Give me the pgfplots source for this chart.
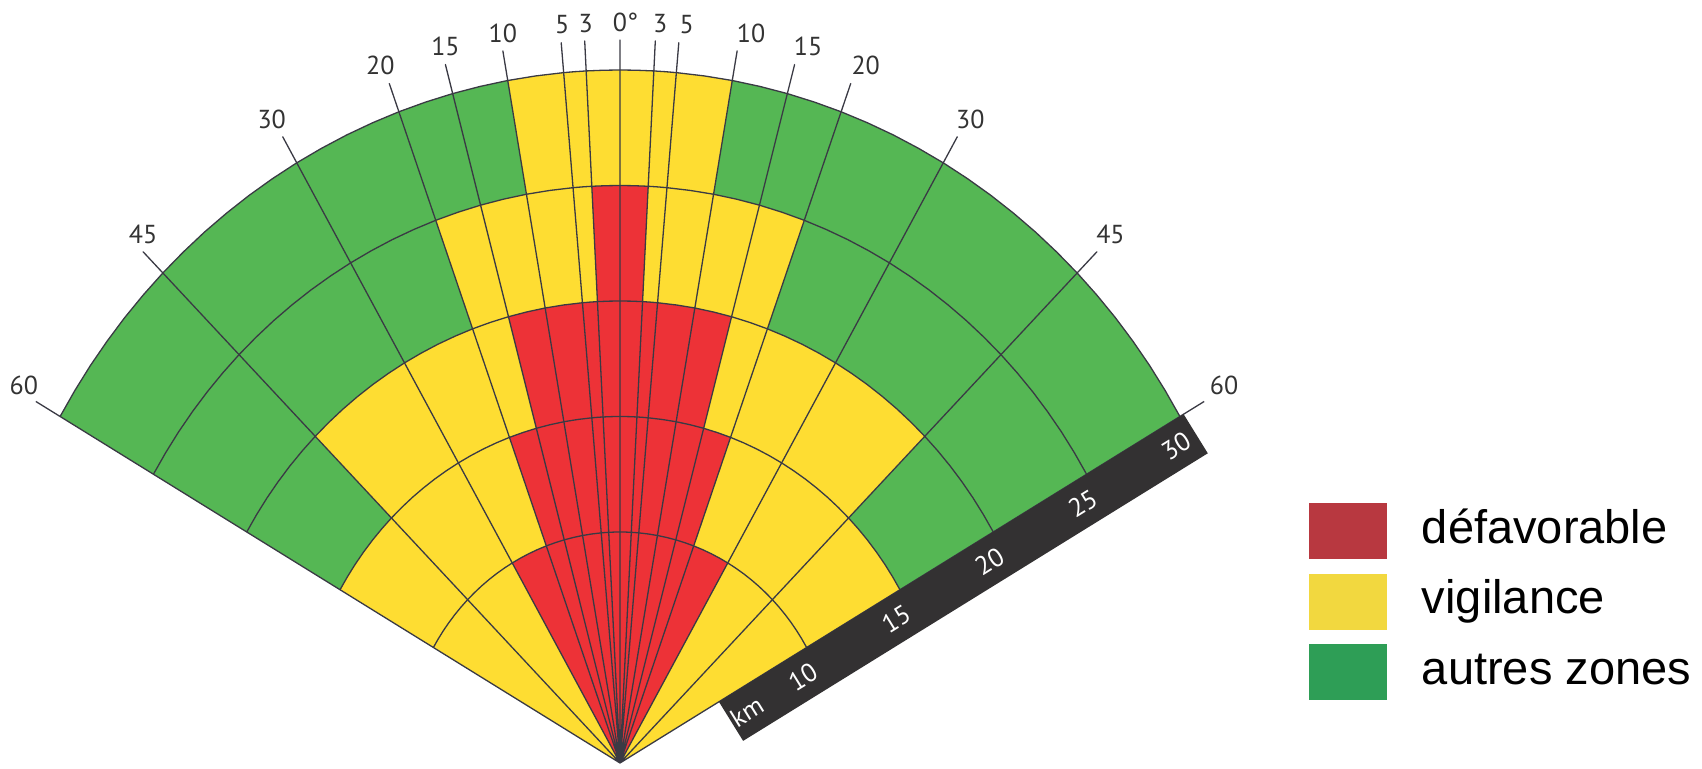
\documentclass[border=0pt]{standalone}
\usepackage{pgfplots}
\pgfplotsset{compat=1.18}
\usepackage{pgfplotstable}
\usepackage{fontspec}
\setmainfont{Liberation Sans}
\newfontfamily\tickfont{PT Sans}
\definecolor{fred}{HTML}{ED3237}
\definecolor{fyel}{HTML}{FEDD32}
\definecolor{fgrn}{HTML}{55B754}
\definecolor{lred}{HTML}{B83840}
\definecolor{lyel}{HTML}{F2D83F}
\definecolor{lgrn}{HTML}{2E9E56}
\definecolor{linec}{HTML}{3A3A44}
\definecolor{barc}{HTML}{333132}
\definecolor{labc}{HTML}{333333}
\tikzset{
  tlab/.style={font=\tickfont\fontsize{13}{15}\selectfont, text=labc, anchor=south, inner sep=0pt, yshift=4pt},
  blab/.style={font=\tickfont\fontsize{13}{15}\selectfont, text=white, rotate=31.75, anchor=center, inner sep=0pt},
}

% angle (deg from vertical) / radius factor; first row = apex
\pgfplotstableread{
a f
0 0
-60 1
-57.5 1
-55 1
-52.5 1
-50 1
-47.5 1
-45 1
-42.5 1
-40 1
-37.5 1
-35 1
-32.5 1
-30 1
-27.5 1
-25 1
-22.5 1
-20 1
-17.5 1
-15 1
-12.5 1
-10 1
-7.5 1
-5 1
-4 1
-3 1
-1.5 1
0 1
1.5 1
3 1
4 1
5 1
7.5 1
10 1
12.5 1
15 1
17.5 1
20 1
22.5 1
25 1
27.5 1
30 1
32.5 1
35 1
37.5 1
40 1
42.5 1
45 1
47.5 1
50 1
52.5 1
55 1
57.5 1
60 1
}\fan

\pgfplotstableread{
a f
-60 1
-57.5 1
-55 1
-52.5 1
-50 1
-47.5 1
-45 1
-42.5 1
-40 1
-37.5 1
-35 1
-32.5 1
-30 1
-27.5 1
-25 1
-22.5 1
-20 1
-17.5 1
-15 1
-12.5 1
-10 1
-7.5 1
-5 1
-4 1
-3 1
-1.5 1
0 1
1.5 1
3 1
4 1
5 1
7.5 1
10 1
12.5 1
15 1
17.5 1
20 1
22.5 1
25 1
27.5 1
30 1
32.5 1
35 1
37.5 1
40 1
42.5 1
45 1
47.5 1
50 1
52.5 1
55 1
57.5 1
60 1
}\arcpts

\pgfplotstableread{
a r
-60 31.3
-60 0
-45 31.3
-45 0
-30 31.3
-30 0
-20 31.3
-20 0
-15 31.3
-15 0
-10 31.3
-10 0
-5 31.3
-5 0
-3 31.3
-3 0
0 31.3
0 0
3 31.3
3 0
5 31.3
5 0
10 31.3
10 0
15 31.3
15 0
20 31.3
20 0
30 31.3
30 0
45 31.3
45 0
60 31.3
}\rays

% sector: colour, outer radius (km), half-angle (deg)
\newcommand{\fanwedge}[3]{\addplot[draw=none,fill=#1,forget plot] table[x expr={#2*\thisrow{f}*sin(max(-#3,min(#3,\thisrow{a})))}, y expr={#2*\thisrow{f}*cos(max(-#3,min(#3,\thisrow{a})))}] {\fan};}
\newcommand{\fanarc}[1]{\addplot[linec,line width=0.65pt,forget plot] table[x expr={#1*\thisrow{f}*sin(\thisrow{a})}, y expr={#1*\thisrow{f}*cos(\thisrow{a})}] {\arcpts};}

\begin{document}
\begin{tikzpicture}
\path[use as bounding box] (0,0) rectangle (851pt,384.5pt);
\begin{axis}[
  at={(310pt,3pt)}, anchor=origin,
  x=10.775pt, y=11.55pt,
  xmin=-34, xmax=34, ymin=-4, ymax=34,
  hide axis, clip=false,
  legend image code/.code={\fill[#1] (0pt,-14pt) rectangle (39pt,14pt);},
  legend cell align=left,
  legend style={at={(0.97015,0.40145)}, anchor=north west, draw=none, fill=none,
    inner sep=0pt, outer sep=0pt, column sep=17.5pt, row sep=7.25pt,
    font=\fontsize{23.5}{27}\selectfont,
    nodes={inner sep=0pt, text height=17pt, text depth=5pt}},
]
% coloured sectors, painted from outside in
\fanwedge{fgrn}{30}{60}
\fanwedge{fyel}{30}{10}
\fanwedge{fyel}{25}{20}
\fanwedge{fred}{25}{3}
\fanwedge{fyel}{20}{45}
\fanwedge{fred}{20}{15}
\fanwedge{fyel}{15}{60}
\fanwedge{fred}{15}{20}
\fanwedge{fred}{10}{30}
% distance arcs
\fanarc{10}
\fanarc{15}
\fanarc{20}
\fanarc{25}
\fanarc{30}
% direction rays
\addplot[linec,line width=0.65pt,line join=round,forget plot] table[x expr={\thisrow{r}*sin(\thisrow{a})}, y expr={\thisrow{r}*cos(\thisrow{a})}] {\rays};
% km scale bar
\addplot[draw=none,fill=barc,forget plot] coordinates {(4.590,2.650) (26.153,15.100) (27.276,13.407) (5.713,0.957)};
\node[blab] at (axis cs:5.887,2.229) {km};
\node[blab] at (axis cs:8.485,3.729) {10};
\node[blab] at (axis cs:12.815,6.229) {15};
\node[blab] at (axis cs:17.145,8.729) {20};
\node[blab] at (axis cs:21.475,11.229) {25};
\node[blab] at (axis cs:25.805,13.729) {30};
% angle labels
\node[tlab] at (axis cs:0,31.3) {0\rlap{°}};
\node[tlab,xshift=0.5pt] at (axis cs:-1.638,31.257) {3};
\node[tlab,xshift=2.5pt] at (axis cs:1.638,31.257) {3};
\node[tlab,xshift=0.5pt] at (axis cs:-2.728,31.181) {5};
\node[tlab,xshift=4pt] at (axis cs:2.728,31.181) {5};
\node[tlab] at (axis cs:-5.434,30.824) {10};
\node[tlab,xshift=7pt] at (axis cs:5.434,30.824) {10};
\node[tlab] at (axis cs:-8.100,30.233) {15};
\node[tlab,xshift=6.75pt] at (axis cs:8.100,30.233) {15};
\node[tlab,xshift=-4.5pt] at (axis cs:-10.705,29.413) {20};
\node[tlab,xshift=7.5pt] at (axis cs:10.705,29.413) {20};
\node[tlab,xshift=-5.5pt] at (axis cs:-15.65,27.106) {30};
\node[tlab,xshift=6.5pt] at (axis cs:15.65,27.106) {30};
\node[tlab] at (axis cs:-22.132,22.132) {45};
\node[tlab,xshift=6.75pt] at (axis cs:22.132,22.132) {45};
\node[tlab,xshift=-6pt,yshift=-1pt] at (axis cs:-27.106,15.65) {60};
\node[tlab,xshift=10pt,yshift=-1pt] at (axis cs:27.106,15.65) {60};
% legend
\addlegendimage{fill=lred,draw=none}
\addlegendentry{défavorable}
\addlegendimage{fill=lyel,draw=none}
\addlegendentry{vigilance}
\addlegendimage{fill=lgrn,draw=none}
\addlegendentry{autres zones}
\end{axis}
\end{tikzpicture}
\end{document}
